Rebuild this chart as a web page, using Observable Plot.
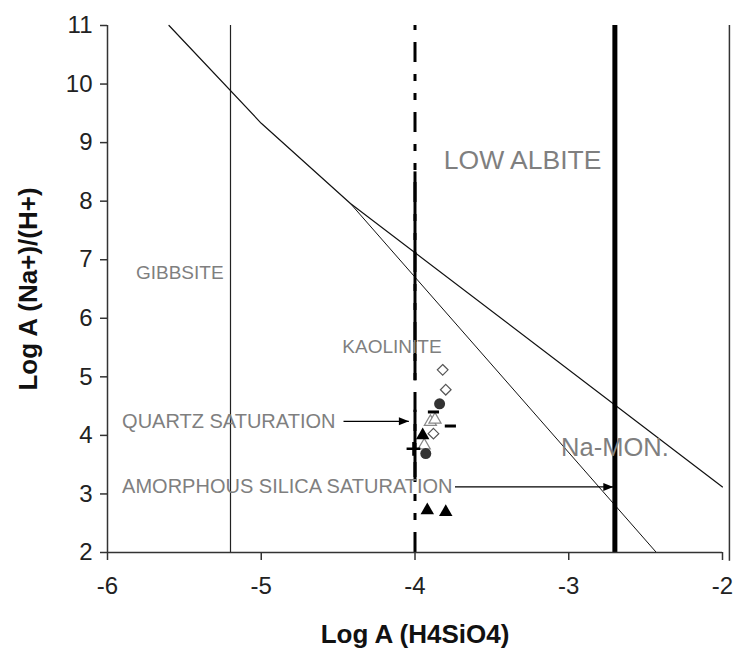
<!DOCTYPE html>
<html><head><meta charset="utf-8">
<script src="https://cdn.jsdelivr.net/npm/d3@7"></script>
<script src="https://cdn.jsdelivr.net/npm/@observablehq/plot@0.6"></script>
<style>body{margin:0;background:#fff}</style>
</head><body><div id="chart"></div>
<script>
// ---- axis ticks ----
const xTicks = [-6, -5, -4, -3, -2];
const yTicks = [2, 3, 4, 5, 6, 7, 8, 9, 10, 11];

// ---- stability boundaries ----
const gibbsiteKaoliniteX = [-5.2];
const upperBoundary = [
  {x: -5.6, y: 11}, {x: -5.0, y: 9.33}, {x: -4.42, y: 7.96}, {x: -2.0, y: 3.12}
];
const lowerBoundary = [{x: -4.42, y: 7.96}, {x: -2.43, y: 2}];
const quartzSatX = [-4];
const quartzSolidSegments = [{y1: 4.93, y2: 8.5}, {y1: 3.28, y2: 4.43}];
const amorphousSatX = [-2.7];
const rightEdgeX = [-1.955];

// ---- field labels ----
const fieldLabels = [
  {x: -3.3, y: 8.7, text: "LOW ALBITE", size: 26.5},
  {x: -5.53, y: 6.77, text: "GIBBSITE", size: 19},
  {x: -4.15, y: 5.51, text: "KAOLINITE", size: 19},
  {x: -2.7, y: 3.78, text: "Na-MON.", size: 25.5}
];
const arrowLabels = [
  {x: -5.905, y: 4.24, text: "QUARTZ SATURATION"},
  {x: -5.905, y: 3.12, text: "AMORPHOUS SILICA SATURATION"}
];
const arrows = [
  {x1: -4.465, x2: -4.04, y: 4.24},
  {x1: -3.74, x2: -2.71, y: 3.12}
];

// ---- samples ----
const openDiamonds = [{x: -3.82, y: 5.12}, {x: -3.80, y: 4.78}, {x: -3.88, y: 4.03}];
const filledCircles = [{x: -3.84, y: 4.54}, {x: -3.93, y: 3.69}];
const openTriangles = [{x: -3.90, y: 4.23}, {x: -3.87, y: 4.27}, {x: -3.94, y: 3.83}];
const dashMarkers = [{x: -3.88, y: 4.40}, {x: -3.77, y: 4.16}];
const plusMarkers = [{x: -4.01, y: 3.77}];
const filledTriangles = [{x: -3.95, y: 4.00}, {x: -3.92, y: 2.72}, {x: -3.80, y: 2.69}];

const dashSymbol = {draw(ctx, size) { const w = Math.sqrt(size) * 0.9; ctx.moveTo(-w, 0); ctx.lineTo(w, 0); }};
const headSymbol = {draw(ctx, size) { ctx.moveTo(0, 0); ctx.lineTo(-10, -4); ctx.lineTo(-10, 4); ctx.closePath(); }};

const gray = "#7f7f7f";
const font = "Liberation Sans, Arial, sans-serif";

const chart = Plot.plot({
  width: 735,
  height: 655,
  marginLeft: 107,
  marginRight: 13,
  marginTop: 25,
  marginBottom: 103,
  style: {fontFamily: font, background: "#fff"},
  x: {domain: [-6, -2]},
  y: {domain: [2, 11]},
  marks: [
    Plot.axisY({ticks: yTicks, tickSize: 7, tickPadding: 8, fontSize: 24, fill: "#222", stroke: "#333", strokeWidth: 1.5, label: null, tickFormat: d => String(d)}),
    Plot.axisX({ticks: xTicks, tickSize: 8, tickPadding: 16, fontSize: 24, fill: "#222", stroke: "#333", strokeWidth: 1.5, label: null, tickFormat: d => String(d)}),
    Plot.ruleX(gibbsiteKaoliniteX, {y1: 2, y2: 11, stroke: "#222", strokeWidth: 1.2}),
    Plot.line(upperBoundary, {x: "x", y: "y", stroke: "#111", strokeWidth: 1.2}),
    Plot.line(lowerBoundary, {x: "x", y: "y", stroke: "#111", strokeWidth: 1}),
    Plot.ruleX(quartzSatX, {y1: 2, y2: 11, stroke: "#000", strokeWidth: 3, strokeDasharray: "20,12,7,12,7,12"}),
    Plot.ruleX(quartzSolidSegments, {x: () => quartzSatX[0], y1: "y1", y2: "y2", stroke: "#000", strokeWidth: 3}),
    Plot.ruleX(amorphousSatX, {y1: 2, y2: 11, stroke: "#000", strokeWidth: 5}),
    Plot.ruleX(rightEdgeX, {y1: 1.85, y2: 11, stroke: "#333", strokeWidth: 1.5}),
    Plot.ruleX([-6], {y1: 2, y2: 11, stroke: "#333", strokeWidth: 1.5}),
    Plot.ruleY([2], {stroke: "#333", strokeWidth: 1.5}),
    Plot.text(fieldLabels, {x: "x", y: "y", text: "text", fontSize: d => d.size, fill: gray, textAnchor: "middle", fontFamily: font, letterSpacing: "0.5px"}),
    Plot.text(arrowLabels, {x: "x", y: "y", text: "text", fontSize: 20, fill: gray, textAnchor: "start", fontFamily: font}),
    Plot.link(arrows, {x1: "x1", x2: "x2", y1: "y", y2: "y", stroke: "#000", strokeWidth: 1.2}),
    Plot.dot(arrows, {x: "x2", y: "y", symbol: headSymbol, fill: "#000", stroke: "none", r: 4}),
    Plot.dot(openTriangles, {x: "x", y: "y", symbol: "triangle", r: 4.5, fill: "#fff", stroke: "#888", strokeWidth: 1.2}),
    Plot.dot(openDiamonds, {x: "x", y: "y", symbol: "diamond2", r: 4.8, fill: "#fff", stroke: "#555", strokeWidth: 1.2}),
    Plot.dot(filledCircles, {x: "x", y: "y", symbol: "circle", r: 5.5, fill: "#333", stroke: "none"}),
    Plot.dot(filledTriangles, {x: "x", y: "y", symbol: "triangle", r: 5, fill: "#000", stroke: "none"}),
    Plot.dot(dashMarkers, {x: "x", y: "y", symbol: dashSymbol, r: 3.5, stroke: "#000", strokeWidth: 3}),
    Plot.dot(plusMarkers, {x: "x", y: "y", symbol: "plus", r: 4.5, stroke: "#000", strokeWidth: 2.5}),
    Plot.text(["Log A (H4SiO4)"], {frameAnchor: "bottom", dy: 90, fontSize: 26, fontWeight: "bold", fill: "#111", fontFamily: font, textAnchor: "middle"}),
    Plot.text(["Log A (Na+)/(H+)"], {frameAnchor: "left", dx: -79, rotate: -90, fontSize: 26, fontWeight: "bold", fill: "#111", fontFamily: font, textAnchor: "middle"})
  ]
});
document.getElementById("chart").appendChild(chart);
</script>
</body></html>
